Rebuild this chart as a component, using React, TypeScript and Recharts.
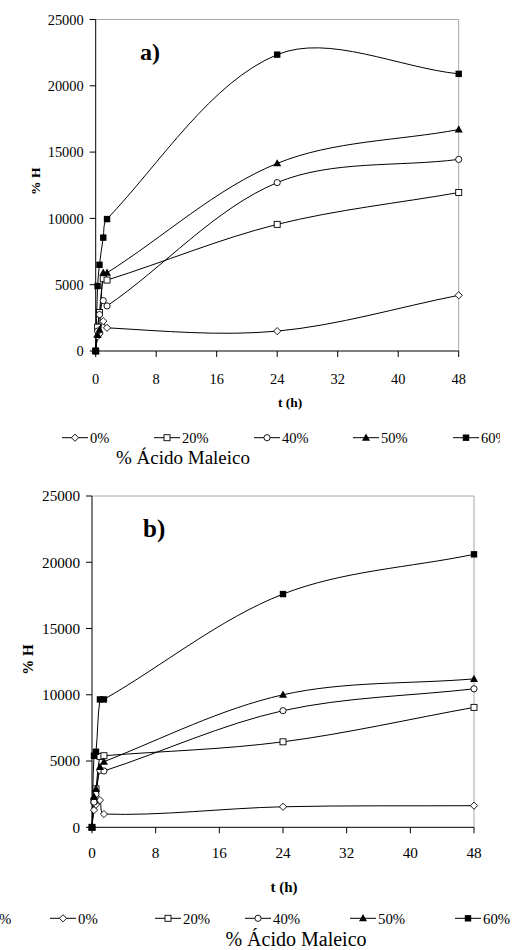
import React from 'react';
import { LineChart, Line, XAxis, YAxis, ReferenceLine, Legend } from 'recharts';

// ---------- data ----------
const TIMES = [0, 0.25, 0.5, 1, 1.5, 24, 48];
const SERIES_NAMES = ['0%', '20%', '40%', '50%', '60%'];
const SERIES_KEYS = ['s0', 's20', 's40', 's50', 's60'];
const SHAPES = ['diamond', 'square', 'circle', 'triangle', 'filledSquare'];

const A_0 = [0, 1100, 1300, 2250, 1750, 1500, 4200];
const A_20 = [0, 1800, 2900, 5450, 5350, 9550, 11950];
const A_40 = [0, 1500, 2750, 3800, 3400, 12700, 14450];
const A_50 = [0, 1200, 1600, 5900, 5900, 14150, 16700];
const A_60 = [0, 4900, 6500, 8550, 9950, 22350, 20900];

const B_0 = [0, 1300, 1700, 2050, 1000, 1550, 1630];
const B_20 = [0, 2000, 2900, 5350, 5400, 6450, 9050];
const B_40 = [0, 1900, 2500, 4300, 4250, 8800, 10450];
const B_50 = [0, 2300, 2900, 4550, 4950, 10000, 11200];
const B_60 = [0, 5400, 5700, 9650, 9650, 17600, 20600];

const X_TICKS = [0, 8, 16, 24, 32, 40, 48];
const Y_TICKS = [0, 5000, 10000, 15000, 20000, 25000];

const X_TITLE = 't (h)';
const Y_TITLE = '% H';
const GROUP_TITLE = '% Ácido Maleico';

const buildRows = (cols: number[][]) =>
  TIMES.map((t, i) => {
    const row: any = { t };
    SERIES_KEYS.forEach((k, j) => {
      row[k] = cols[j][i];
    });
    return row;
  });

const ROWS_A = buildRows([A_0, A_20, A_40, A_50, A_60]);
const ROWS_B = buildRows([B_0, B_20, B_40, B_50, B_60]);

const FONT = "'Liberation Serif', 'Times New Roman', serif";

// Smoothed line, chord-length weighted Catmull-Rom style Bezier
const excelSmooth: any = (context: any) => {
  let pts: number[][] = [];
  const dist = (a: number[], b: number[]) => Math.hypot(b[0] - a[0], b[1] - a[1]);
  return {
    areaStart() {},
    areaEnd() {},
    lineStart() {
      pts = [];
    },
    point(x: number, y: number) {
      pts.push([+x, +y]);
    },
    lineEnd() {
      const n = pts.length;
      if (!n) return;
      context.moveTo(pts[0][0], pts[0][1]);
      for (let i = 0; i < n - 1; i++) {
        const p0 = pts[Math.max(i - 1, 0)];
        const p1 = pts[i];
        const p2 = pts[i + 1];
        const p3 = pts[Math.min(i + 2, n - 1)];
        const d01 = dist(p0, p1);
        const d12 = dist(p1, p2);
        const d23 = dist(p2, p3);
        const f1 = d01 + d12 > 0 ? d12 / (d01 + d12) / 3 : 0;
        const f2 = d12 + d23 > 0 ? d12 / (d12 + d23) / 3 : 0;
        const c1x = p1[0] + (p2[0] - p0[0]) * f1;
        const c1y = p1[1] + (p2[1] - p0[1]) * f1;
        const c2x = p2[0] - (p3[0] - p1[0]) * f2;
        const c2y = p2[1] - (p3[1] - p1[1]) * f2;
        context.bezierCurveTo(c1x, c1y, c2x, c2y, p2[0], p2[1]);
      }
    },
  };
};

const Marker = ({ cx, cy, shape }: any) => {
  if (cx == null || cy == null || isNaN(cx) || isNaN(cy)) return null;
  switch (shape) {
    case 'diamond':
      return (
        <polygon
          points={`${cx},${cy - 3.6} ${cx + 3.6},${cy} ${cx},${cy + 3.6} ${cx - 3.6},${cy}`}
          fill="#fff"
          stroke="#000"
          strokeWidth={0.9}
        />
      );
    case 'square':
      return <rect x={cx - 3} y={cy - 3} width={6} height={6} fill="#fff" stroke="#000" strokeWidth={0.9} />;
    case 'circle':
      return <circle cx={cx} cy={cy} r={3.1} fill="#fff" stroke="#000" strokeWidth={0.9} />;
    case 'triangle':
      return <polygon points={`${cx},${cy - 4.2} ${cx + 4},${cy + 3} ${cx - 4},${cy + 3}`} fill="#000" />;
    default:
      return <rect x={cx - 3.2} y={cy - 3.2} width={6.4} height={6.4} fill="#000" />;
  }
};

type Cfg = {
  top: number;
  width: number;
  height: number;
  clipWidth: number;
  margin: { top: number; right: number; bottom: number; left: number };
  tickFont: number;
  xTickMargin: number;
  titleFont: number;
  xTitleBaseline: number;
  xTitleDx: number;
  yTitleX: number;
  yTitleDy: number;
  legendLineY: number;
  legendTextBaseline: number;
  legendXs: number[];
  legendFont: number;
  groupTitleX: number;
  groupTitleBaseline: number;
  groupTitleFont: number;
  panelLabel: string;
  panelLabelX: number;
  panelLabelBaseline: number;
  panelLabelFont: number;
  extraPercent: boolean;
  data: any[];
};

const CFG_A: Cfg = {
  top: 0,
  width: 500,
  height: 470,
  clipWidth: 500,
  margin: { top: 19.5, right: 41.3, bottom: 59, left: 35.7 },
  tickFont: 14.4,
  xTickMargin: 17,
  titleFont: 13.5,
  xTitleBaseline: 407,
  xTitleDx: 13,
  yTitleX: 40,
  yTitleDy: -4,
  legendLineY: 437.7,
  legendTextBaseline: 443,
  legendXs: [62, 154, 254, 353, 453],
  legendFont: 14.5,
  groupTitleX: 183,
  groupTitleBaseline: 464,
  groupTitleFont: 19,
  panelLabel: 'a)',
  panelLabelX: 140,
  panelLabelBaseline: 60,
  panelLabelFont: 24,
  extraPercent: false,
  data: ROWS_A,
};

const CFG_B: Cfg = {
  top: 476,
  width: 515,
  height: 474,
  clipWidth: 515,
  margin: { top: 20, right: 41, bottom: 62.7, left: 32 },
  tickFont: 15.2,
  xTickMargin: 14,
  titleFont: 15,
  xTitleBaseline: 416,
  xTitleDx: 1,
  yTitleX: 33,
  yTitleDy: -2,
  legendLineY: 442.3,
  legendTextBaseline: 448,
  legendXs: [50, 155, 245, 350, 455],
  legendFont: 14.8,
  groupTitleX: 296,
  groupTitleBaseline: 470,
  groupTitleFont: 20,
  panelLabel: 'b)',
  panelLabelX: 143,
  panelLabelBaseline: 61,
  panelLabelFont: 25,
  extraPercent: true,
  data: ROWS_B,
};

const makeLegend = (cfg: Cfg) => (props: any) => {
  const payload = props.payload || [];
  return (
    <svg width={cfg.width} height={cfg.height} style={{ display: 'block' }}>
      {cfg.extraPercent && (
        <text x={-1} y={cfg.legendTextBaseline} fontSize={cfg.legendFont} fontFamily={FONT} fill="#000">
          %
        </text>
      )}
      {payload.map((entry: any, i: number) => {
        const idx = SERIES_KEYS.indexOf(entry.dataKey);
        const x0 = cfg.legendXs[i];
        return (
          <g key={`leg-${i}`}>
            <line x1={x0} x2={x0 + 26} y1={cfg.legendLineY} y2={cfg.legendLineY} stroke="#000" strokeWidth={1} />
            <Marker cx={x0 + 13} cy={cfg.legendLineY} shape={SHAPES[idx]} />
            <text x={x0 + 28} y={cfg.legendTextBaseline} fontSize={cfg.legendFont} fontFamily={FONT} fill="#000">
              {entry.value}
            </text>
          </g>
        );
      })}
      <text
        x={cfg.groupTitleX}
        y={cfg.groupTitleBaseline}
        textAnchor="middle"
        fontSize={cfg.groupTitleFont}
        fontFamily={FONT}
        fill="#000"
      >
        {GROUP_TITLE}
      </text>
    </svg>
  );
};

const Panel = ({ cfg }: { cfg: Cfg }) => {
  const tickStyle = { fill: '#000', fontSize: cfg.tickFont, fontFamily: FONT };
  return (
    <div
      style={{
        position: 'absolute',
        left: 0,
        top: cfg.top,
        width: cfg.clipWidth,
        height: cfg.height,
        overflow: 'hidden',
        fontFamily: FONT,
      }}
    >
      <LineChart width={cfg.width} height={cfg.height} data={cfg.data} margin={cfg.margin} style={{ fontFamily: FONT }}>
        <XAxis
          type="number"
          dataKey="t"
          domain={[0, 48]}
          ticks={X_TICKS}
          interval={0}
          height={60}
          tickSize={6}
          tickMargin={cfg.xTickMargin}
          axisLine={{ stroke: '#000' }}
          tickLine={{ stroke: '#000' }}
          tick={tickStyle}
          label={(p: any) => {
            const vb = p.viewBox || {};
            return (
              <text
                x={(vb.x ?? 0) + (vb.width ?? 0) / 2 + cfg.xTitleDx}
                y={cfg.xTitleBaseline}
                textAnchor="middle"
                fontSize={cfg.titleFont}
                fontWeight="bold"
                fontFamily={FONT}
                fill="#000"
              >
                {X_TITLE}
              </text>
            );
          }}
        />
        <YAxis
          type="number"
          domain={[0, 25000]}
          ticks={Y_TICKS}
          interval={0}
          width={60}
          tickSize={6}
          tickMargin={6}
          axisLine={{ stroke: '#000' }}
          tickLine={{ stroke: '#000' }}
          tick={tickStyle}
          label={(p: any) => {
            const vb = p.viewBox || {};
            const cy = (vb.y ?? 0) + (vb.height ?? 0) / 2 + cfg.yTitleDy;
            return (
              <text
                x={cfg.yTitleX}
                y={cy}
                transform={`rotate(-90 ${cfg.yTitleX} ${cy})`}
                textAnchor="middle"
                fontSize={cfg.titleFont}
                fontWeight="bold"
                fontFamily={FONT}
                fill="#000"
              >
                {Y_TITLE}
              </text>
            );
          }}
        />
        <ReferenceLine y={25000} stroke="#a8a8a8" strokeWidth={1} />
        <ReferenceLine x={48} stroke="#a8a8a8" strokeWidth={1} />
        {SERIES_KEYS.map((k, j) => (
          <Line
            key={k}
            dataKey={k}
            name={SERIES_NAMES[j]}
            type={excelSmooth}
            stroke="#000"
            strokeWidth={1}
            isAnimationActive={false}
            activeDot={false}
            dot={(p: any) => <Marker key={`${k}-d-${p.index}`} cx={p.cx} cy={p.cy} shape={SHAPES[j]} />}
          />
        ))}
        <Legend
          layout="horizontal"
          verticalAlign="middle"
          align="center"
          wrapperStyle={{ left: 0, top: 0, width: cfg.width, height: cfg.height, pointerEvents: 'none' }}
          content={makeLegend(cfg)}
        />
      </LineChart>
      <svg
        width={cfg.width}
        height={cfg.height}
        style={{ position: 'absolute', left: 0, top: 0, pointerEvents: 'none' }}
      >
        <text
          x={cfg.panelLabelX}
          y={cfg.panelLabelBaseline}
          fontSize={cfg.panelLabelFont}
          fontWeight="bold"
          fontFamily={FONT}
          fill="#000"
        >
          {cfg.panelLabel}
        </text>
      </svg>
    </div>
  );
};

export default function App() {
  return (
    <div
      style={{
        position: 'absolute',
        left: 0,
        top: 0,
        width: 515,
        height: 950,
        background: '#fff',
        overflow: 'hidden',
        fontFamily: FONT,
      }}
    >
      <Panel cfg={CFG_A} />
      <Panel cfg={CFG_B} />
    </div>
  );
}
